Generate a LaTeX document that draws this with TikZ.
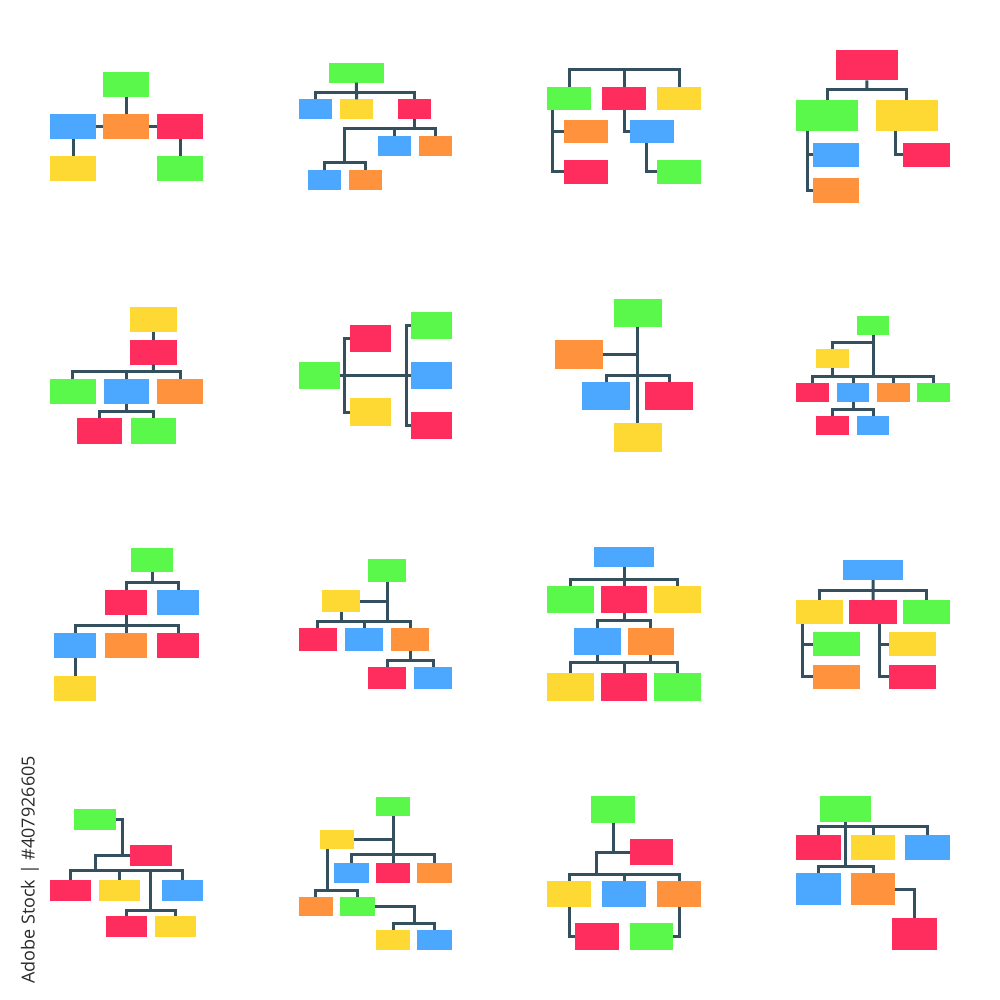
\documentclass[tikz,border=0pt]{standalone}
\usepackage{fontspec}
\newfontfamily\stockfont{Open Sans}
\usetikzlibrary{fit}
\definecolor{cgreen}{HTML}{59F84A}
\definecolor{cblue}{HTML}{4CA8FF}
\definecolor{cyellow}{HTML}{FFD933}
\definecolor{cred}{HTML}{FF2D5E}
\definecolor{corange}{HTML}{FF923D}
\definecolor{cwire}{HTML}{34505E}
\definecolor{ctext}{HTML}{2A2A2A}

\begin{document}
\begin{tikzpicture}[x=1pt,y=1pt,yscale=-1,xscale=1,
  blk/.style={fill=#1,draw=none,inner sep=0pt,outer sep=0pt},
  wire/.style={draw=cwire,line width=3pt,line join=miter}]
\useasboundingbox (0,0) rectangle (1000,1000);

%Chart: row 1, col 1
\node[blk=cgreen,fit={(103.3,71.7) (149.3,97.2)}] (A1) {};
\node[blk=cblue,fit={(50,114) (96,139.5)}] (A2) {};
\node[blk=corange,fit={(103.3,114) (149.3,139.5)}] (A3) {};
\node[blk=cred,fit={(157,114) (203,139.5)}] (A4) {};
\node[blk=cyellow,fit={(50,155.7) (96,181.2)}] (A5) {};
\node[blk=cgreen,fit={(157,155.7) (203,181.2)}] (A6) {};
\draw[wire] (A1.south) -- (A3.north);
\draw[wire] (A2.east) -- (A3.west);
\draw[wire] (A3.east) -- (A4.west);
\draw[wire] (A2.south) -- (A5.north);
\draw[wire] (A4.south) -- (A6.north);

%Chart: row 1, col 2
\node[blk=cgreen,fit={(329,62.7) (383.7,82.7)}] (B0) {};
\node[blk=cblue,fit={(298.7,99.3) (332,119.3)}] (B1) {};
\node[blk=cyellow,fit={(340,99.3) (373.3,119.3)}] (B2) {};
\node[blk=cred,fit={(398,99.3) (431.3,119.3)}] (B3) {};
\node[blk=cblue,fit={(377.7,136) (411,156)}] (B4) {};
\node[blk=corange,fit={(418.7,136) (452,156)}] (B5) {};
\node[blk=cblue,fit={(307.7,170.3) (341,190.3)}] (B6) {};
\node[blk=corange,fit={(349,170.3) (382.3,190.3)}] (B7) {};
\coordinate (Bj1) at (356.35,92.7);
\coordinate (Bj2) at (344.3,128.3);
\coordinate (Bj3) at (344.3,162.7);
\draw[wire] (B1.north) |- (Bj1) -| (B3.north);
\draw[wire] (B0.south) -- (B2.north);
\draw[wire] (B3.south) -- (B3.south |- Bj2);
\draw[wire] (B5.north) |- (Bj2) -- (Bj3);
\draw[wire] (B4.north) -- (B4.north |- Bj2);
\draw[wire] (B6.north) |- (Bj3) -| (B7.north);

%Chart: row 1, col 3
\node[blk=cgreen,fit={(547.3,87) (591,110.3)}] (C1) {};
\node[blk=cred,fit={(602.3,87) (646,110.3)}] (C2) {};
\node[blk=cyellow,fit={(657.3,87) (701,110.3)}] (C3) {};
\node[blk=corange,fit={(564.3,119.7) (608,143)}] (C4) {};
\node[blk=cred,fit={(564.3,160.3) (608,183.7)}] (C5) {};
\node[blk=cblue,fit={(630,119.7) (673.7,143)}] (C6) {};
\node[blk=cgreen,fit={(657.3,160.3) (701,183.7)}] (C7) {};
\coordinate (Cj) at (624.15,70);
\draw[wire] (C1.north) |- (Cj) -| (C3.north);
\draw[wire] (C2.north) -- (Cj);
\draw[wire] ([xshift=5.4pt]C1.south west) |- (C5.west);
\draw[wire] (C4.west) -- (C4.west -| C5.west) -- ++(-11.6,0);
\draw[wire] (C2.south) |- (C6.west);
\draw[wire] ([xshift=16pt]C6.south west) |- (C7.west);

%Chart: row 1, col 4
\node[blk=cred,fit={(836,50) (897.7,80.3)}] (D0) {};
\node[blk=cgreen,fit={(796.3,100.3) (858.3,130.7)}] (D1) {};
\node[blk=cyellow,fit={(876,100.3) (937.7,130.7)}] (D2) {};
\node[blk=cblue,fit={(812.7,142.7) (859.3,167)}] (D3) {};
\node[blk=corange,fit={(812.7,178.3) (859.3,203)}] (D4) {};
\node[blk=cred,fit={(903.3,142.7) (950,167)}] (D5) {};
\coordinate (Dj) at (866.85,90);
\draw[wire] (D1.north) |- (Dj) -| (D2.north);
\draw[wire] (D0.south) -- (Dj);
\draw[wire] ([xshift=11pt]D1.south west) |- (D4.west);
\draw[wire] (D3.west) -- ++(-5.4,0);
\draw[wire] ([xshift=19pt]D2.south west) |- (D5.west);

%Chart: row 2, col 1
\node[blk=cyellow,fit={(130,307) (176.7,332)}] (E0) {};
\node[blk=cred,fit={(130,339.7) (176.7,364.7)}] (E1) {};
\node[blk=cgreen,fit={(50,379) (95.7,404)}] (E2) {};
\node[blk=cblue,fit={(103.7,379) (149.3,404)}] (E3) {};
\node[blk=corange,fit={(157.3,379) (203,404)}] (E4) {};
\node[blk=cred,fit={(76.7,418.3) (122.3,443.7)}] (E5) {};
\node[blk=cgreen,fit={(130.7,418.3) (176.3,443.7)}] (E6) {};
\coordinate (Ej1) at (153.35,371.3);
\coordinate (Ej2) at (126.5,411.3);
\draw[wire] (E0.south) -- (E1.north);
\draw[wire] (E2.north) |- (Ej1) -| (E4.north);
\draw[wire] (E1.south) -- (Ej1);
\draw[wire] (E3.north) -- (E3.north |- Ej1);
\draw[wire] (E5.north) |- (Ej2) -| (E6.north);
\draw[wire] (E3.south) -- (Ej2);

%Chart: row 2, col 2
\node[blk=cgreen,fit={(298.7,362) (339.7,389)}] (F0) {};
\node[blk=cred,fit={(350.3,325) (391.3,352.3)}] (F1) {};
\node[blk=cyellow,fit={(350.3,398.3) (391.3,425.7)}] (F2) {};
\node[blk=cgreen,fit={(411,311.7) (452,338.7)}] (F3) {};
\node[blk=cblue,fit={(411,362) (452,389)}] (F4) {};
\node[blk=cred,fit={(411,412.3) (452,439)}] (F5) {};
\draw[wire] (F0.east) -- (F4.west);
\draw[wire] (F1.west) -- ++(-6,0) |- (F2.west);
\draw[wire] (F3.west) -- ++(-5,0) |- (F5.west);

%Chart: row 2, col 3
\node[blk=cgreen,fit={(613.7,298.7) (661.7,327.3)}] (G0) {};
\node[blk=corange,fit={(555.3,340.3) (603.3,369)}] (G1) {};
\node[blk=cblue,fit={(582,381.7) (630,410.3)}] (G2) {};
\node[blk=cred,fit={(645,381.7) (693,410.3)}] (G3) {};
\node[blk=cyellow,fit={(613.7,423.3) (661.7,452)}] (G4) {};
\coordinate (Gj) at (637.7,375);
\draw[wire] (G0.south) -- (G4.north);
\draw[wire] (G1.east) -- (G1.east -| G0.south);
\draw[wire] (G2.north) |- (Gj) -| (G3.north);

%Chart: row 2, col 4
\node[blk=cgreen,fit={(857,315.7) (889.3,334.7)}] (H0) {};
\node[blk=cyellow,fit={(816.3,349.3) (849.3,368)}] (H1) {};
\node[blk=cred,fit={(796.3,382.7) (829.3,401.7)}] (H2) {};
\node[blk=cblue,fit={(836.7,382.7) (869.3,401.7)}] (H3) {};
\node[blk=corange,fit={(877,382.7) (909.7,401.7)}] (H4) {};
\node[blk=cgreen,fit={(917,382.7) (949.7,401.7)}] (H5) {};
\node[blk=cred,fit={(816.3,416) (849.3,435)}] (H6) {};
\node[blk=cblue,fit={(857,416) (889.3,435)}] (H7) {};
\coordinate (Hj1) at (873.15,342.7);
\coordinate (Hj2) at (873.15,376);
\coordinate (Hj3) at (853,409.3);
\draw[wire] (H0.south) -- (Hj2);
\draw[wire] (H1.north) |- (Hj1);
\draw[wire] (H2.north) |- (Hj2) -| (H5.north);
\draw[wire] (H1.south) -- (H1.south |- Hj2);
\draw[wire] (H3.north) -- (H3.north |- Hj2);
\draw[wire] (H4.north) -- (H4.north |- Hj2);
\draw[wire] (H6.north) |- (Hj3) -| (H7.north);
\draw[wire] (H3.south) -- (Hj3);

%Chart: row 3, col 1
\node[blk=cgreen,fit={(131,547.7) (173.3,572.3)}] (I0) {};
\node[blk=cred,fit={(105.3,590.3) (147.3,615)}] (I1) {};
\node[blk=cblue,fit={(157,590.3) (199,615)}] (I2) {};
\node[blk=cblue,fit={(54,633.3) (96,658)}] (I3) {};
\node[blk=corange,fit={(105.3,633.3) (147.3,658)}] (I4) {};
\node[blk=cred,fit={(157,633.3) (199,658)}] (I5) {};
\node[blk=cyellow,fit={(54,676) (96,700.7)}] (I6) {};
\coordinate (Ij1) at (152.15,582.3);
\coordinate (Ij2) at (126.3,625.3);
\draw[wire] (I1.north) |- (Ij1) -| (I2.north);
\draw[wire] (I0.south) -- (Ij1);
\draw[wire] (I3.north) |- (Ij2) -| (I5.north);
\draw[wire] (I1.south) -- (I4.north);
\draw[wire] (I3.south) -- (I6.north);

%Chart: row 3, col 2
\node[blk=cgreen,fit={(368,559.3) (406,581.7)}] (J0) {};
\node[blk=cyellow,fit={(322,590) (360,612)}] (J1) {};
\node[blk=cred,fit={(298.7,628.3) (336.7,650.7)}] (J2) {};
\node[blk=cblue,fit={(345,628.3) (383,650.7)}] (J3) {};
\node[blk=corange,fit={(391.3,628.3) (429.3,650.7)}] (J4) {};
\node[blk=cred,fit={(368,667) (406,689)}] (J5) {};
\node[blk=cblue,fit={(414.3,667) (452.3,689)}] (J6) {};
\coordinate (Jj1) at (387,621);
\coordinate (Jj2) at (410.3,660);
\draw[wire] (J0.south) -- (Jj1);
\draw[wire] (J1.east) -- (J1.east -| J0.south);
\draw[wire] (J2.north) |- (Jj1) -| (J4.north);
\draw[wire] (J1.south) -- (J1.south |- Jj1);
\draw[wire] (J3.north) -- (J3.north |- Jj1);
\draw[wire] (J5.north) |- (Jj2) -| (J6.north);
\draw[wire] (J4.south) -- (Jj2);

%Chart: row 3, col 3
\node[blk=cblue,fit={(594,547.3) (654.3,567.3)}] (K0) {};
\node[blk=cgreen,fit={(547.3,586) (594,613.3)}] (K1) {};
\node[blk=cred,fit={(601,586) (647.3,613.3)}] (K2) {};
\node[blk=cyellow,fit={(654.3,586) (700.7,613.3)}] (K3) {};
\node[blk=cblue,fit={(574.3,628) (620.7,655.3)}] (K4) {};
\node[blk=corange,fit={(627.7,628) (674,655.3)}] (K5) {};
\node[blk=cyellow,fit={(547.3,673.3) (594,700.7)}] (K6) {};
\node[blk=cred,fit={(601,673.3) (647.3,700.7)}] (K7) {};
\node[blk=cgreen,fit={(654.3,673.3) (700.7,700.7)}] (K8) {};
\coordinate (Kj1) at (624.15,579.3);
\coordinate (Kj2) at (624.15,620.3);
\coordinate (Kj3) at (624.15,662);
\draw[wire] (K1.north) |- (Kj1) -| (K3.north);
\draw[wire] (K0.south) -- (K2.north);
\draw[wire] (K4.north) |- (Kj2) -| (K5.north);
\draw[wire] (K2.south) -- (Kj2);
\draw[wire] (K6.north) |- (Kj3) -| (K8.north);
\draw[wire] (K7.north) -- (Kj3);
\draw[wire] (K4.south) -- (K4.south |- Kj3);
\draw[wire] (K5.south) -- (K5.south |- Kj3);

%Chart: row 3, col 4
\node[blk=cblue,fit={(843,560) (903.3,580)}] (L0) {};
\node[blk=cyellow,fit={(796.3,600) (843.3,623.7)}] (L1) {};
\node[blk=cred,fit={(849.3,600) (896.7,623.7)}] (L2) {};
\node[blk=cgreen,fit={(902.7,600) (949.7,623.7)}] (L3) {};
\node[blk=cgreen,fit={(813,632.3) (860,656.3)}] (L4) {};
\node[blk=corange,fit={(813,664.7) (860,688.7)}] (L5) {};
\node[blk=cyellow,fit={(889,632.3) (936,656.3)}] (L6) {};
\node[blk=cred,fit={(889,664.7) (936,688.7)}] (L7) {};
\coordinate (Lj) at (873.15,590);
\draw[wire] (L1.north) |- (Lj) -| (L3.north);
\draw[wire] (L0.south) -- (L2.north);
\draw[wire] ([xshift=6.4pt]L1.south west) |- (L5.west);
\draw[wire] (L4.west) -- ++(-10.3,0);
\draw[wire] ([xshift=29.7pt]L2.south west) |- (L7.west);
\draw[wire] (L6.west) -- ++(-10,0);

%Chart: row 4, col 1
\node[blk=cgreen,fit={(74.3,809) (115.7,830)}] (M0) {};
\node[blk=cred,fit={(130,844.7) (171.7,865.7)}] (M1) {};
\node[blk=cred,fit={(50,880) (91,901.3)}] (M2) {};
\node[blk=cyellow,fit={(99,880) (140,901.3)}] (M3) {};
\node[blk=cblue,fit={(162,880) (203,901.3)}] (M4) {};
\node[blk=cred,fit={(106,916.3) (147,937.3)}] (M5) {};
\node[blk=cyellow,fit={(155,916.3) (196,937.3)}] (M6) {};
\coordinate (Mj1) at (122.7,855.2);
\coordinate (Mj2) at (95.3,870);
\coordinate (Mj3) at (150.7,910);
\draw[wire] (M0.east) -| (Mj1);
\draw[wire] (M1.west) -| (Mj2);
\draw[wire] (M2.north) |- (Mj2) -| (M4.north);
\draw[wire] (M3.north) -- (M3.north |- Mj2);
\draw[wire] (M5.north) |- (Mj3) -| (M6.north);
\draw[wire] (Mj3) -- (Mj3 |- Mj2);

%Chart: row 4, col 2
\node[blk=cgreen,fit={(376,796.7) (410.3,815.7)}] (N0) {};
\node[blk=cyellow,fit={(319.7,830) (354,849.3)}] (N1) {};
\node[blk=cblue,fit={(334.3,863.3) (368.7,882.7)}] (N2) {};
\node[blk=cred,fit={(376,863.3) (410.3,882.7)}] (N3) {};
\node[blk=corange,fit={(417.3,863.3) (451.7,882.7)}] (N4) {};
\node[blk=corange,fit={(298.7,897) (333,916.3)}] (N5) {};
\node[blk=cgreen,fit={(340.3,897) (374.7,916.3)}] (N6) {};
\node[blk=cyellow,fit={(376,930.3) (410.3,949.7)}] (N7) {};
\node[blk=cblue,fit={(417.3,930.3) (451.7,949.7)}] (N8) {};
\coordinate (Nj1) at (393.15,854.7);
\coordinate (Nj2) at (327,890);
\coordinate (Nj3) at (414,923.3);
\draw[wire] (N0.south) -- (Nj1);
\draw[wire] (N1.east) -- (N1.east -| N0.south);
\draw[wire] (N2.north) |- (Nj1) -| (N4.north);
\draw[wire] (N3.north) -- (Nj1);
\draw[wire] ([xshift=7.3pt]N1.south west) -- (Nj2);
\draw[wire] (N5.north) |- (Nj2) -| (N6.north);
\draw[wire] (N6.east) -| (Nj3);
\draw[wire] (N7.north) |- (Nj3) -| (N8.north);

%Chart: row 4, col 3
\node[blk=cgreen,fit={(591.3,796.3) (635,823)}] (O0) {};
\node[blk=cred,fit={(630,839) (673.3,865)}] (O1) {};
\node[blk=cyellow,fit={(547.3,881) (591.3,907.3)}] (O2) {};
\node[blk=cblue,fit={(602.3,881) (646.3,907.3)}] (O3) {};
\node[blk=corange,fit={(657,881) (701,907.3)}] (O4) {};
\node[blk=cred,fit={(575,923.3) (619,949.7)}] (O5) {};
\node[blk=cgreen,fit={(629.7,923.3) (673.3,949.7)}] (O6) {};
\coordinate (Oj) at (596.7,874);
\draw[wire] (O0.south) -- (O0.south |- O1.west);
\draw[wire] (O1.west) -| (Oj);
\draw[wire] (O2.north) |- (Oj) -| (O4.north);
\draw[wire] (O3.north) -- (O3.north |- Oj);
\draw[wire] (O2.south) |- (O5.west);
\draw[wire] (O4.south) |- (O6.east);

%Chart: row 4, col 4
\node[blk=cgreen,fit={(820,796.3) (871.3,822)}] (P0) {};
\node[blk=cred,fit={(796.3,835) (841,860.3)}] (P1) {};
\node[blk=cyellow,fit={(850.7,835) (895.3,860.3)}] (P2) {};
\node[blk=cblue,fit={(905.3,835) (950,860.3)}] (P3) {};
\node[blk=cblue,fit={(796.3,873.3) (841,905)}] (P4) {};
\node[blk=corange,fit={(850.7,873.3) (895.3,905)}] (P5) {};
\node[blk=cred,fit={(892,917.7) (936.7,949.7)}] (P6) {};
\coordinate (Pj1) at (845.65,826.7);
\coordinate (Pj2) at (845.65,866);
\draw[wire] (P1.north) |- (Pj1) -| (P3.north);
\draw[wire] (P2.north) -- (P2.north |- Pj1);
\draw[wire] (P0.south) -- (Pj2);
\draw[wire] (P4.north) |- (Pj2) -| (P5.north);
\draw[wire] (P5.east) -| (P6.north);

% Text Node
\node[rotate=90,text=ctext,font=\stockfont\fontsize{18}{20}\selectfont,inner sep=0pt] (credit) at (30,870) {Adobe Stock | \#407926605};

\end{tikzpicture}
\end{document}
